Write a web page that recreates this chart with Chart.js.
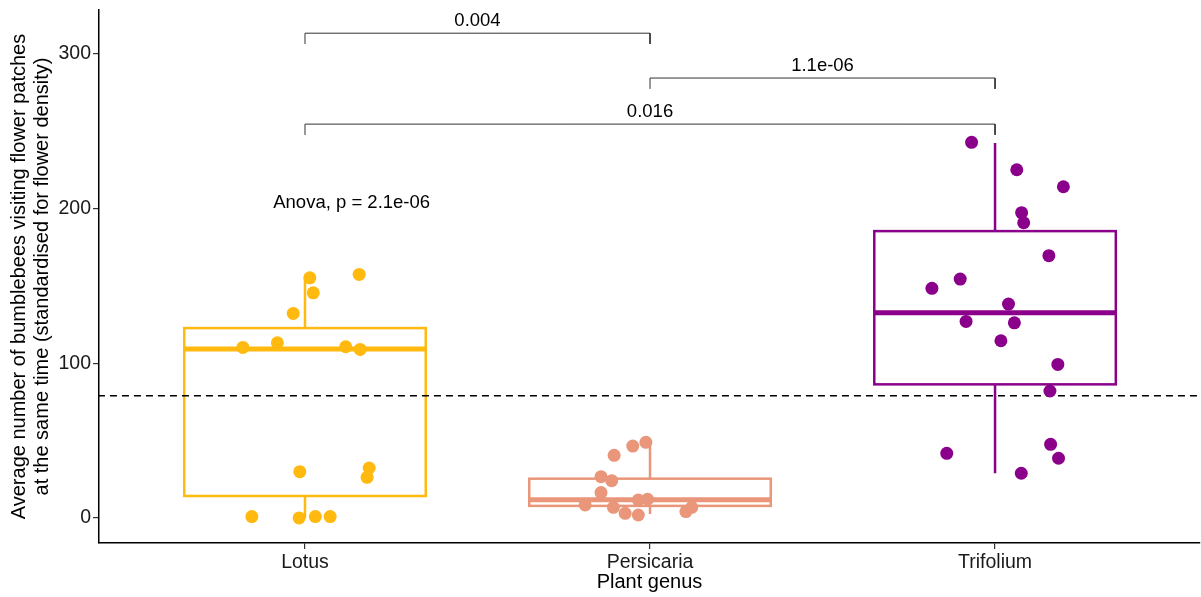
<!DOCTYPE html>
<html>
<head>
<meta charset="utf-8">
<script src="https://cdn.jsdelivr.net/npm/chart.js@4.4.0/dist/chart.umd.min.js"></script>
<style>
  html, body { margin: 0; padding: 0; background: #fff; }
  canvas { display: block; }
</style>
</head>
<body>
<canvas id="myChart" width="1201" height="597"></canvas>
<script>
// categories + colours
const genera = ['Lotus', 'Persicaria', 'Trifolium'];
const genusColors = ['#FFB90F', '#E9967A', '#8B008B'];

// box stats per genus (lower whisker, q1, median, q3, upper whisker)
const whiskLow = [0, 2.5, 28.9];
const boxQ1 = [14.2, 7.8, 86.4];
const boxMedian = [109.3, 11.8, 132.7];
const boxQ3 = [122.8, 25.4, 185.5];
const whiskHigh = [155.5, 49, 242.5];

// jittered points: offset from category centre and value
const lotusJitter = [0.014, 0.157, 0.024, -0.034, -0.18, -0.08, 0.118, 0.16, -0.015, 0.186, 0.18, -0.154, -0.017, 0.03, 0.073];
const lotusValues = [155.3, 157.5, 145.6, 132.3, 110.3, 113.3, 110.7, 109.0, 29.9, 32.3, 26.3, 0.9, 0, 0.9, 0.9];
const persJitter = [-0.012, -0.05, -0.104, -0.142, -0.111, -0.142, -0.188, -0.106, -0.072, -0.034, -0.034, -0.007, 0.104, 0.121];
const persValues = [48.9, 46.5, 40.5, 26.7, 24.1, 16.4, 8.4, 6.9, 3.0, 1.9, 11.6, 12.1, 4.1, 6.9];
const trifJitter = [-0.068, 0.063, 0.198, 0.077, 0.083, 0.156, -0.101, -0.183, 0.039, -0.084, 0.056, 0.017, 0.182, 0.159, -0.140, 0.161, 0.184, 0.076];
const trifValues = [242.9, 225.2, 214.2, 197.4, 190.9, 169.6, 154.5, 148.5, 138.3, 127.1, 126.2, 114.6, 99.3, 82.1, 41.8, 47.6, 38.6, 28.9];

const overallMean = 79;

// pairwise comparisons: from, to, bar height, label
const pairFrom = [0, 1, 0];
const pairTo = [1, 2, 2];
const pairHeight = [313.5, 284.5, 254.7];
const pairLabels = ['0.004', '1.1e-06', '0.016'];
const anovaLabel = 'Anova, p = 2.1e-06';

const yTicks = [0, 100, 200, 300];

const fontFam = '"Liberation Sans", Arial, sans-serif';

function jitterPoints(idx, offs, vals) {
  return vals.map((v, k) => ({ x: idx + offs[k], y: v }));
}

let datasets = [
  { data: jitterPoints(0, lotusJitter, lotusValues), backgroundColor: genusColors[0] },
  { data: jitterPoints(1, persJitter, persValues), backgroundColor: genusColors[1] },
  { data: jitterPoints(2, trifJitter, trifValues), backgroundColor: genusColors[2] }
].map(d => Object.assign(d, { pointRadius: 6.5, pointHoverRadius: 6.5, borderWidth: 0 }));

// dashed mean line
datasets.push({
  data: [{ x: -0.6, y: overallMean }, { x: 2.6, y: overallMean }],
  showLine: true, borderColor: '#000', borderWidth: 1.5, borderDash: [7, 5],
  pointRadius: 0
});

// comparison brackets
const drop = 7;
pairFrom.forEach((f, i) => {
  datasets.push({
    data: [
      { x: f, y: pairHeight[i] - drop },
      { x: f, y: pairHeight[i] },
      { x: pairTo[i], y: pairHeight[i] },
      { x: pairTo[i], y: pairHeight[i] - drop }
    ],
    showLine: true, borderColor: '#333', borderWidth: 1, pointRadius: 0, tension: 0
  });
});

const boxPlugin = {
  id: 'boxes',
  beforeDatasetsDraw(chart) {
    const { ctx, scales: { x, y } } = chart;
    ctx.save();
    genera.forEach((g, i) => {
      const left = x.getPixelForValue(i - 0.35);
      const right = x.getPixelForValue(i + 0.35);
      const mid = x.getPixelForValue(i);
      ctx.strokeStyle = genusColors[i];
      ctx.lineWidth = 2.5;
      // whiskers
      ctx.beginPath();
      ctx.moveTo(mid, y.getPixelForValue(boxQ3[i]));
      ctx.lineTo(mid, y.getPixelForValue(whiskHigh[i]));
      ctx.moveTo(mid, y.getPixelForValue(boxQ1[i]));
      ctx.lineTo(mid, y.getPixelForValue(whiskLow[i]));
      ctx.stroke();
      // box
      ctx.strokeRect(left, y.getPixelForValue(boxQ3[i]), right - left,
        y.getPixelForValue(boxQ1[i]) - y.getPixelForValue(boxQ3[i]));
      // median
      ctx.lineWidth = 5;
      ctx.beginPath();
      ctx.moveTo(left, y.getPixelForValue(boxMedian[i]));
      ctx.lineTo(right, y.getPixelForValue(boxMedian[i]));
      ctx.stroke();
    });
    ctx.restore();
  },
  afterDatasetsDraw(chart) {
    const { ctx, scales: { x, y } } = chart;
    ctx.save();
    ctx.fillStyle = '#000';
    ctx.font = '18.5px ' + fontFam;
    ctx.textAlign = 'center';
    ctx.textBaseline = 'bottom';
    pairLabels.forEach((lab, i) => {
      const cx = (x.getPixelForValue(pairFrom[i]) + x.getPixelForValue(pairTo[i])) / 2;
      ctx.fillText(lab, cx, y.getPixelForValue(pairHeight[i]) - 3);
    });
    ctx.textAlign = 'left';
    ctx.textBaseline = 'middle';
    ctx.fillText(anovaLabel, x.getPixelForValue(-0.092), y.getPixelForValue(203.5));
    ctx.restore();
  }
};

function noPad(axis) {
  axis.paddingLeft = 0; axis.paddingRight = 0;
  axis.paddingTop = 0; axis.paddingBottom = 0;
}

new Chart('myChart', {
  type: 'scatter',
  data: { datasets: datasets },
  plugins: [boxPlugin],
  options: {
    responsive: false,
    animation: false,
    layout: { autoPadding: false, padding: { top: 10, right: 1, left: 0, bottom: 0 } },
    plugins: { legend: { display: false }, tooltip: { enabled: false } },
    scales: {
      x: {
        type: 'linear', min: -0.597, max: 2.594,
        afterBuildTicks: axis => { axis.ticks = genera.map((g, i) => ({ value: i })); },
        afterFit: axis => { axis.height = 54; noPad(axis); },
        ticks: {
          callback: v => genera[v],
          color: '#1a1a1a', padding: 2,
          font: { size: 19.5, family: fontFam }
        },
        grid: { drawOnChartArea: false, tickLength: 6, color: '#333', lineWidth: 1.2 },
        border: { display: true, color: '#000', width: 1.5 },
        title: {
          display: true, text: 'Plant genus', color: '#000',
          padding: { top: 0, bottom: 3 },
          font: { size: 20, family: fontFam }
        }
      },
      y: {
        min: -16.2, max: 328.5,
        afterBuildTicks: axis => { axis.ticks = yTicks.map(v => ({ value: v })); },
        afterFit: axis => { axis.width = 99; noPad(axis); },
        ticks: {
          color: '#1a1a1a', padding: 2,
          font: { size: 19.5, family: fontFam }
        },
        grid: { drawOnChartArea: false, tickLength: 6, color: '#333', lineWidth: 1.2 },
        border: { display: true, color: '#000', width: 1.5 },
        title: {
          display: true, color: '#000',
          text: ['Average number of bumblebees visiting flower patches',
                 'at the same time (standardised for flower density)'],
          padding: { top: 8, bottom: 0 },
          font: { size: 20, family: fontFam, lineHeight: 1.15 }
        }
      }
    }
  }
});
</script>
</body>
</html>
